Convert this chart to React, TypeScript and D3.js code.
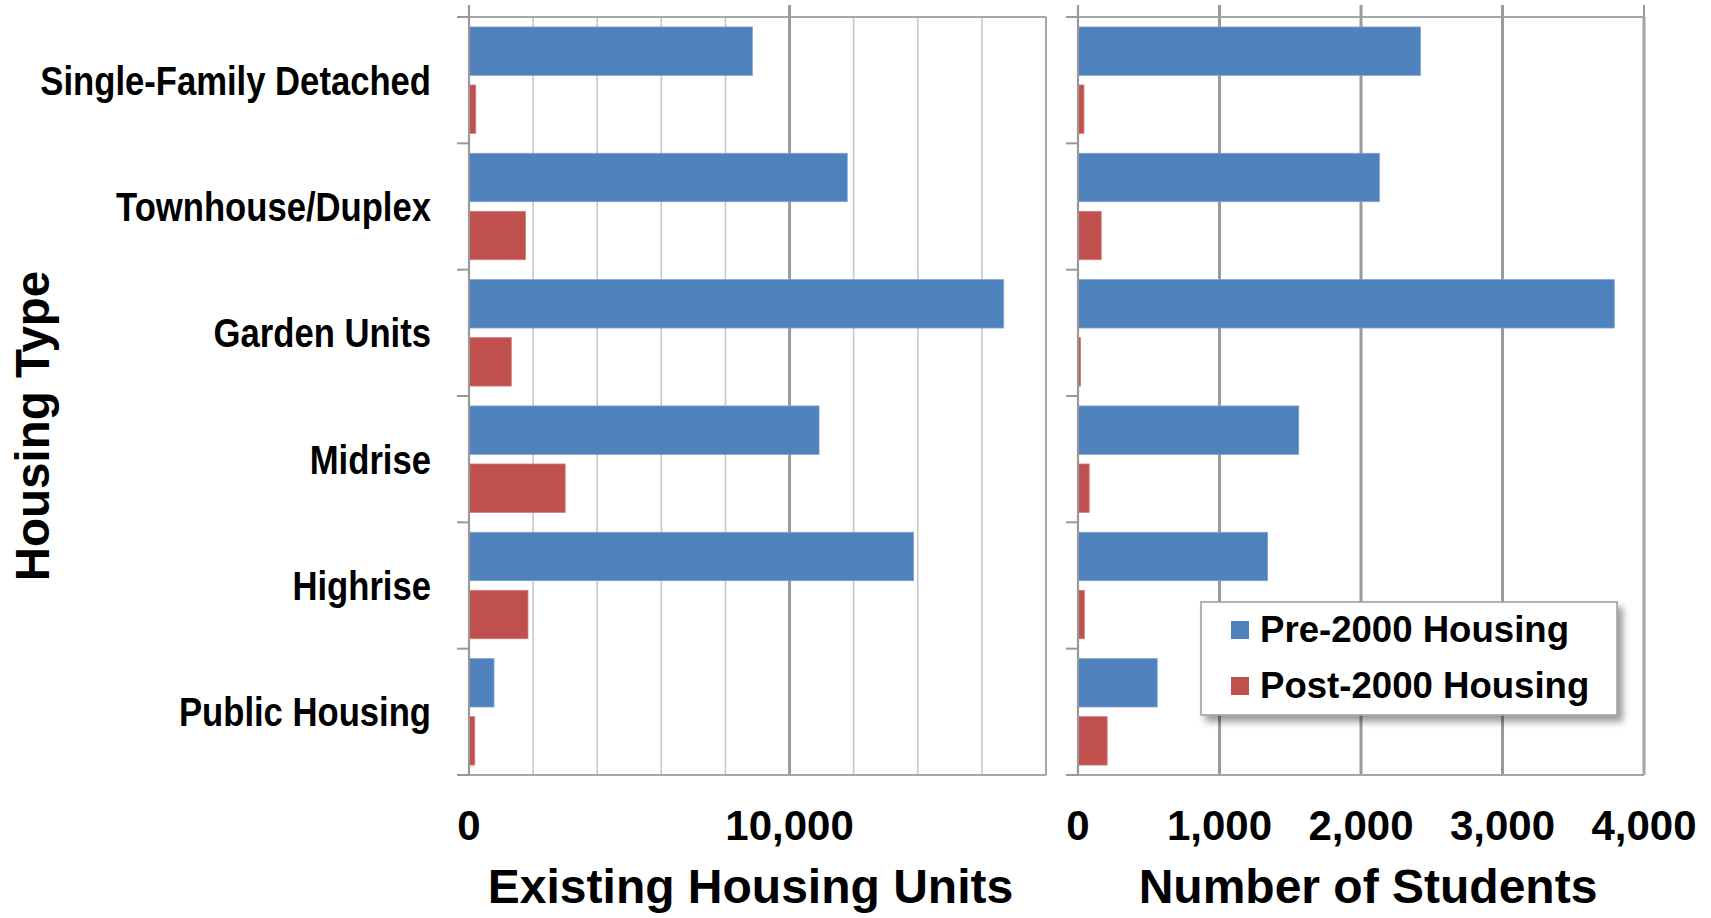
import React from "react";
import * as d3 from "d3";

// Housing types and the two series shown in each panel
const categories = [
  "Single-Family Detached",
  "Townhouse/Duplex",
  "Garden Units",
  "Midrise",
  "Highrise",
  "Public Housing",
];
const seriesKeys = ["pre", "post"];
const seriesLabels = ["Pre-2000 Housing", "Post-2000 Housing"];

// Existing housing units
const unitsPre = [8840, 11800, 16680, 10920, 13870, 780];
const unitsPost = [210, 1760, 1320, 3000, 1840, 180];

// Number of students
const studentsPre = [2420, 2130, 3790, 1560, 1340, 560];
const studentsPost = [42, 164, 18, 79, 45, 206];

// Axis ticks
const unitsGridTicks = [2000, 4000, 6000, 8000, 10000, 12000, 14000, 16000, 18000];
const unitsMajorTicks = [0, 10000];
const studentsTicks = [0, 1000, 2000, 3000, 4000];

const W = 1711;
const H = 918;
const FONT = "'Liberation Sans', Arial, Helvetica, sans-serif";
const BLUE = "#4F81BD";
const RED = "#C0504D";

const PLOT_TOP = 17;
const PLOT_BOTTOM = 775;

const fmt = d3.format(",");

type PanelProps = {
  x0: number;
  x1: number;
  max: number;
  pre: number[];
  post: number[];
  gridTicks: number[];
  majorTicks: number[];
  labelTicks: number[];
  minorColor: string;
  title: string;
  titleOffset: number;
};

const yBand = d3
  .scaleBand<string>()
  .domain(categories)
  .range([PLOT_TOP, PLOT_BOTTOM])
  .padding(0);

const ySeries = d3
  .scaleBand<string>()
  .domain(seriesKeys)
  .range([0, yBand.bandwidth()])
  .paddingInner(0.166)
  .paddingOuter(0.1715);

function Panel(p: PanelProps) {
  const x = d3.scaleLinear().domain([0, p.max]).range([p.x0, p.x1]);
  const boundaries = d3.range(categories.length + 1).map((i) => PLOT_TOP + i * yBand.step());
  const values = [p.pre, p.post];
  const colors = [BLUE, RED];
  return (
    <g>
      {/* vertical gridlines */}
      {p.gridTicks.map((t) => {
        const major = p.majorTicks.includes(t);
        return (
          <line
            key={"g" + t}
            x1={x(t)}
            x2={x(t)}
            y1={PLOT_TOP}
            y2={PLOT_BOTTOM}
            stroke={major ? "#9a9a9a" : p.minorColor}
            strokeWidth={major ? 3 : 1.6}
          />
        );
      })}
      {/* bars */}
      {seriesKeys.map((k, si) =>
        categories.map((c, ci) => (
          <rect
            key={k + c}
            x={x(0)}
            y={(yBand(c) as number) + (ySeries(k) as number)}
            width={x(values[si][ci]) - x(0)}
            height={ySeries.bandwidth()}
            fill={colors[si]}
            stroke={si === 0 ? "#7ea3d3" : "#d07a77"}
            strokeWidth={0.8}
          />
        ))
      )}
      {/* frame */}
      <line x1={p.x0 - 12} x2={p.x1} y1={PLOT_TOP} y2={PLOT_TOP} stroke="#a6a6a6" strokeWidth={2} />
      <line x1={p.x0 - 12} x2={p.x1} y1={PLOT_BOTTOM} y2={PLOT_BOTTOM} stroke="#a6a6a6" strokeWidth={2} />
      <line x1={p.x1} x2={p.x1} y1={PLOT_TOP} y2={PLOT_BOTTOM} stroke="#a6a6a6" strokeWidth={2} />
      <line x1={p.x0} x2={p.x0} y1={5} y2={PLOT_BOTTOM} stroke="#999999" strokeWidth={2.2} />
      {/* major tick marks above the frame */}
      {p.majorTicks
        .filter((t) => t > 0)
        .map((t) => (
          <line key={"m" + t} x1={x(t)} x2={x(t)} y1={5} y2={PLOT_TOP} stroke="#9a9a9a" strokeWidth={t === p.max ? 2 : 3} />
        ))}
      {/* category tick marks */}
      {boundaries.map((b, i) => (
        <line key={"b" + i} x1={p.x0 - 12} x2={p.x0} y1={b} y2={b} stroke="#999999" strokeWidth={2} />
      ))}
      {/* value labels */}
      {p.labelTicks.map((t) => (
        <text
          key={"l" + t}
          x={x(t)}
          y={840}
          textAnchor="middle"
          fontFamily={FONT}
          fontWeight="bold"
          fontSize={42}
          fill="#000"
        >
          {fmt(t)}
        </text>
      ))}
      <text
        x={(p.x0 + p.x1) / 2 + p.titleOffset}
        y={903}
        textAnchor="middle"
        fontFamily={FONT}
        fontWeight="bold"
        fontSize={48}
        fill="#000"
      >
        {p.title}
      </text>
    </g>
  );
}

export default function App() {
  const legendX = 1201;
  const legendY = 602;
  return (
    <svg
      width={W}
      height={H}
      viewBox={`0 0 ${W} ${H}`}
      style={{ position: "absolute", left: 0, top: 0, background: "#fff" }}
    >
      <defs>
        <filter id="legendShadow" x="-10%" y="-20%" width="130%" height="160%">
          <feDropShadow dx={5} dy={6} stdDeviation={3.5} floodColor="#000" floodOpacity={0.4} />
        </filter>
      </defs>
      <rect x={0} y={0} width={W} height={H} fill="#fff" />

      <Panel
        x0={469}
        x1={1046}
        max={18000}
        pre={unitsPre}
        post={unitsPost}
        gridTicks={unitsGridTicks}
        majorTicks={unitsMajorTicks}
        labelTicks={unitsMajorTicks}
        minorColor="#c8c8c8"
        title="Existing Housing Units"
        titleOffset={-7}
      />
      <Panel
        x0={1078}
        x1={1644}
        max={4000}
        pre={studentsPre}
        post={studentsPost}
        gridTicks={studentsTicks.filter((t) => t > 0)}
        majorTicks={studentsTicks}
        labelTicks={studentsTicks}
        minorColor="#a0a0a0"
        title="Number of Students"
        titleOffset={7}
      />

      {/* category labels */}
      {categories.map((c) => (
        <text
          key={c}
          transform={`translate(431,${(yBand(c) as number) + yBand.bandwidth() / 2 + 14.5}) scale(0.845,1)`}
          textAnchor="end"
          fontFamily={FONT}
          fontWeight="bold"
          fontSize={41}
          fill="#000"
        >
          {c}
        </text>
      ))}

      {/* y axis title */}
      <text
        transform={`translate(49,${(PLOT_TOP + PLOT_BOTTOM) / 2 + 30}) rotate(-90)`}
        textAnchor="middle"
        fontFamily={FONT}
        fontWeight="bold"
        fontSize={47.5}
        fill="#000"
      >
        Housing Type
      </text>

      {/* legend */}
      <g>
        <rect
          x={legendX}
          y={legendY}
          width={416}
          height={113}
          fill="#fff"
          stroke="#a0a0a0"
          strokeWidth={1.6}
          filter="url(#legendShadow)"
        />
        {seriesLabels.map((s, i) => (
          <g key={s}>
            <rect x={legendX + 30} y={legendY + 19 + i * 56} width={18} height={18} fill={i === 0 ? BLUE : RED} />
            <text
              x={legendX + 59}
              y={legendY + 40 + i * 55.5}
              fontFamily={FONT}
              fontWeight="bold"
              fontSize={36.6}
              fill="#000"
            >
              {s}
            </text>
          </g>
        ))}
      </g>
    </svg>
  );
}
